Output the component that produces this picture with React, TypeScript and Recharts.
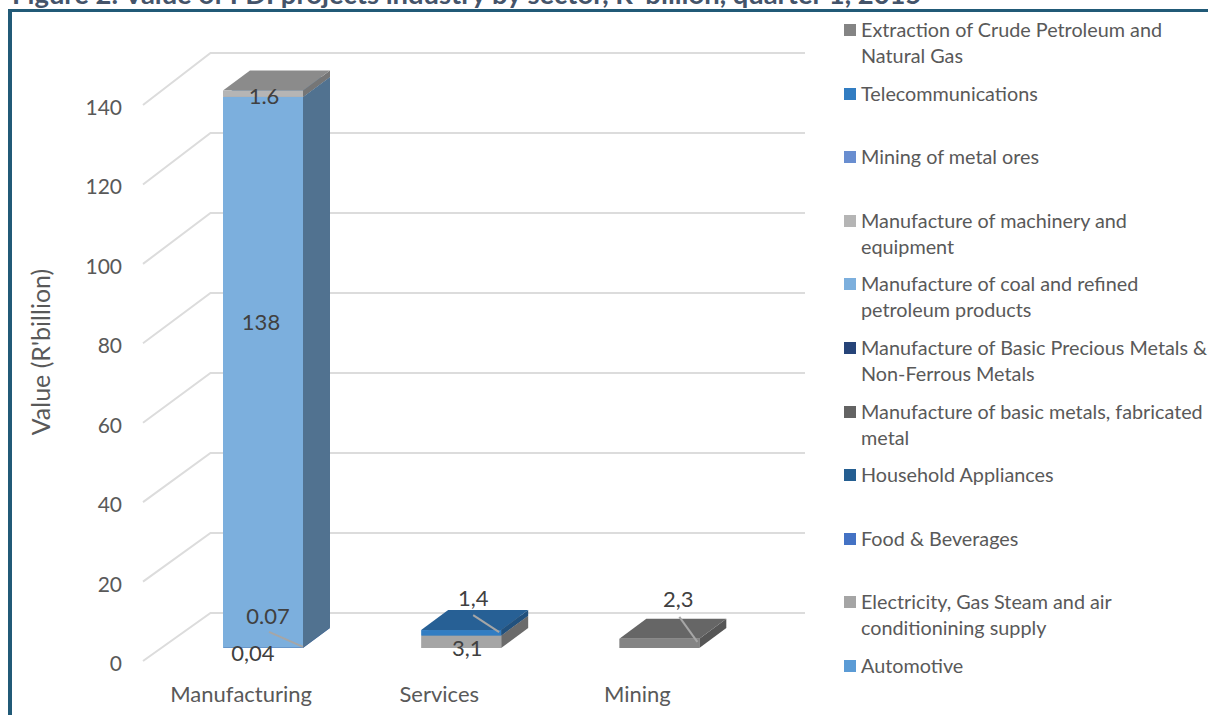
import * as React from "react";
import { Bar, BarChart, CartesianGrid, Legend, XAxis, YAxis } from "recharts";

/* ── data ──────────────────────────────────────────────────────────────────── */

const sectors = ["Manufacturing", "Services", "Mining"];
const valueTicks = [0, 20, 40, 60, 80, 100, 120, 140];

const automotive = [0.04, null, null];
const electricityGas = [null, 3.1, null];
const foodBeverages = [0.07, null, null];
const householdAppliances = [null, null, null];
const basicMetals = [null, null, null];
const preciousMetals = [null, null, null];
const coalPetroleum = [138, null, null];
const machinery = [1.6, null, null];
const metalOres = [null, null, null];
const telecoms = [null, 1.4, null];
const crudeExtraction = [null, null, 2.3];

// bottom of the stack first; the legend lists them the other way round
const series = [
  { key: "automotive", name: "Automotive", color: "#5b9bd5", values: automotive, mark: "," },
  { key: "electricity", name: "Electricity, Gas Steam and air\nconditionining supply", color: "#a5a5a5", values: electricityGas, mark: "," },
  { key: "food", name: "Food & Beverages", color: "#4472c4", values: foodBeverages, mark: "." },
  { key: "household", name: "Household Appliances", color: "#255e91", values: householdAppliances, mark: "," },
  { key: "basicMetals", name: "Manufacture of basic metals, fabricated\nmetal", color: "#636363", values: basicMetals, mark: "," },
  { key: "precious", name: "Manufacture of Basic Precious Metals &\nNon-Ferrous Metals", color: "#264478", values: preciousMetals, mark: "," },
  { key: "coal", name: "Manufacture of coal and refined\npetroleum products", color: "#7cafdd", values: coalPetroleum, mark: "," },
  { key: "machinery", name: "Manufacture of machinery and\nequipment", color: "#b5b5b5", values: machinery, mark: "." },
  { key: "metalOres", name: "Mining of metal ores", color: "#698ed0", values: metalOres, mark: "," },
  { key: "telecoms", name: "Telecommunications", color: "#327dc2", values: telecoms, mark: "," },
  { key: "extraction", name: "Extraction of Crude Petroleum and\nNatural Gas", color: "#848484", values: crudeExtraction, mark: "," },
];

const rows = sectors.map((sector, i) => {
  const row: Record<string, string | number | null> = { sector };
  series.forEach((s) => (row[s.key] = s.values[i]));
  return row;
});

/* ── layout ────────────────────────────────────────────────────────────────── */

const WIDTH = 1208;
const HEIGHT = 715;
const FONT = "Lato, 'Open Sans', sans-serif";
const TEXT = "#595959";
const LABEL = "#404040";
const GRID = "#dcdcdc";

// The box front sits in a middle plane, the tick labels on the front edge of
// the floor, so each gets its own y axis over the same plot area.
const BAR_DOMAIN = [-6.767, 152.38];
const FRONT_DOMAIN = [-3.525, 156.38];

const DEPTH_X = 27;
const DEPTH_Y = 20;

// where each value label goes, relative to the top left of its segment
const labelSpots: Record<string, { dx: number; dy: number; leader?: number[] }> = {
  "automotive:0": { dx: 30, dy: 5, leader: [46, -16, 80, -1] },
  "food:0": { dx: 45, dy: -32 },
  "coal:0": { dx: 38, dy: 225 },
  "machinery:0": { dx: 41, dy: 5 },
  "electricity:1": { dx: 46, dy: 12 },
  "telecoms:1": { dx: 52, dy: -33, leader: [52, -15, 78, 2] },
  "extraction:2": { dx: 59, dy: -40, leader: [60, -22, 78, 3] },
};

function shade(hex: string, k: number): string {
  const n = parseInt(hex.slice(1), 16);
  const c = [n >> 16, (n >> 8) & 255, n & 255].map((v) => Math.round(v * k));
  return `rgb(${c[0]},${c[1]},${c[2]})`;
}

/* ── marks ─────────────────────────────────────────────────────────────────── */

// Front, top and side face of one stacked segment.
function Box3D(props: any) {
  const { x, y, width: w, height: h, fill } = props;
  if (!h || h <= 0) return null;
  return (
    <g>
      <polygon
        points={`${x + w},${y} ${x + w + DEPTH_X},${y - DEPTH_Y} ${x + w + DEPTH_X},${y + h - DEPTH_Y} ${x + w},${y + h}`}
        fill={shade(fill, 0.65)}
      />
      <polygon
        points={`${x},${y} ${x + w},${y} ${x + w + DEPTH_X},${y - DEPTH_Y} ${x + DEPTH_X},${y - DEPTH_Y}`}
        fill={shade(fill, 0.77)}
      />
      <rect x={x} y={y} width={w} height={h} fill={fill} />
    </g>
  );
}

function segmentLabel(s: (typeof series)[number]) {
  return (props: any) => {
    const { x, y, index } = props;
    const spot = labelSpots[`${s.key}:${index}`];
    const value = s.values[index];
    if (!spot || value == null) return null;
    return (
      <g>
        {spot.leader && (
          <line
            x1={x + spot.leader[0]}
            y1={y + spot.leader[1]}
            x2={x + spot.leader[2]}
            y2={y + spot.leader[3]}
            stroke="#a6a6a6"
            strokeWidth={2}
          />
        )}
        <text
          x={x + spot.dx}
          y={y + spot.dy}
          textAnchor="middle"
          dominantBaseline="central"
          fill={LABEL}
          fontFamily={FONT}
          fontSize={22}
        >
          {String(value).replace(".", s.mark)}
        </text>
      </g>
    );
  };
}

/* ── axes ──────────────────────────────────────────────────────────────────── */

// Grid line running up the side wall and along the back wall.
function WallLine(props: any) {
  const y = props.y1;
  const back = Math.round(y - 48 - (661 - y) * 0.0072);
  return (
    <polyline
      points={`143,${y} 210.5,${back} 805,${back}`}
      fill="none"
      stroke={GRID}
      strokeWidth={2}
    />
  );
}

function ValueTick({ y, payload }: any) {
  return (
    <text
      x={122}
      y={y + 1.5}
      textAnchor="end"
      dominantBaseline="central"
      fill={TEXT}
      fontFamily={FONT}
      fontSize={21}
    >
      {payload.value}
    </text>
  );
}

function SectorTick({ x, payload }: any) {
  return (
    <text
      x={x - 22}
      y={693}
      textAnchor="middle"
      dominantBaseline="central"
      fill={TEXT}
      fontFamily={FONT}
      fontSize={22}
    >
      {payload.value}
    </text>
  );
}

function AxisTitle() {
  return (
    <text
      transform="translate(40,352) rotate(-90)"
      textAnchor="middle"
      dominantBaseline="central"
      fill={TEXT}
      fontFamily={FONT}
      fontSize={25}
    >
      Value (R'billion)
    </text>
  );
}

function SectorLegend({ payload }: any) {
  const items = [...(payload ?? [])].reverse();
  return (
    <div style={{ fontFamily: FONT, fontSize: 19.8, lineHeight: "26px", color: TEXT }}>
      {items.map((item: any) => (
        <div key={item.value} style={{ height: 63.6, position: "relative", paddingLeft: 21, whiteSpace: "pre-line" }}>
          <span
            style={{
              position: "absolute",
              left: 4,
              top: 8,
              width: 12,
              height: 12,
              background: item.color,
            }}
          />
          {item.value}
        </div>
      ))}
    </div>
  );
}

export default function App() {
  return (
    <div style={{ position: "absolute", left: 0, top: 0, width: WIDTH, height: HEIGHT, overflow: "hidden", background: "#fff" }}>
      <div
        style={{
          position: "absolute",
          left: 12,
          top: -18,
          fontFamily: FONT,
          fontWeight: 700,
          fontSize: 27.4,
          lineHeight: "24px",
          color: "#44546a",
          whiteSpace: "nowrap",
        }}
      >
        Figure 2: Value of FDI projects industry by sector, R' billion, quarter 1, 2015
      </div>
      <div
        style={{
          position: "absolute",
          left: 8,
          top: 9,
          right: 0,
          bottom: 0,
          borderLeft: "4px solid #215a77",
          borderTop: "3px solid #215a77",
        }}
      />
      <div style={{ position: "absolute", left: 0, top: 0 }}>
        <BarChart
          width={WIDTH}
          height={HEIGHT}
          data={rows}
          margin={{ top: 40, right: 449.5, bottom: 0, left: 0 }}
          barSize={80}
        >
          <CartesianGrid yAxisId="front" vertical={false} syncWithTicks horizontal={<WallLine />} />
          <XAxis
            dataKey="sector"
            axisLine={false}
            tickLine={false}
            height={40}
            tick={<SectorTick />}
          />
          <YAxis
            yAxisId="front"
            domain={FRONT_DOMAIN}
            allowDataOverflow
            ticks={valueTicks}
            interval={0}
            width={164}
            axisLine={false}
            tickLine={false}
            tick={<ValueTick />}
            label={<AxisTitle />}
          />
          <YAxis yAxisId="bars" hide domain={BAR_DOMAIN} allowDataOverflow />
          <Legend
            layout="vertical"
            align="center"
            verticalAlign="middle"
            itemSorter={null}
            wrapperStyle={{ left: 840, top: 16, width: 368, height: 699 }}
            content={<SectorLegend />}
          />
          {series.map((s) => (
            <Bar
              key={s.key}
              yAxisId="bars"
              dataKey={s.key}
              name={s.name}
              stackId="fdi"
              fill={s.color}
              isAnimationActive={false}
              shape={<Box3D />}
              label={segmentLabel(s)}
            />
          ))}
        </BarChart>
      </div>
    </div>
  );
}
